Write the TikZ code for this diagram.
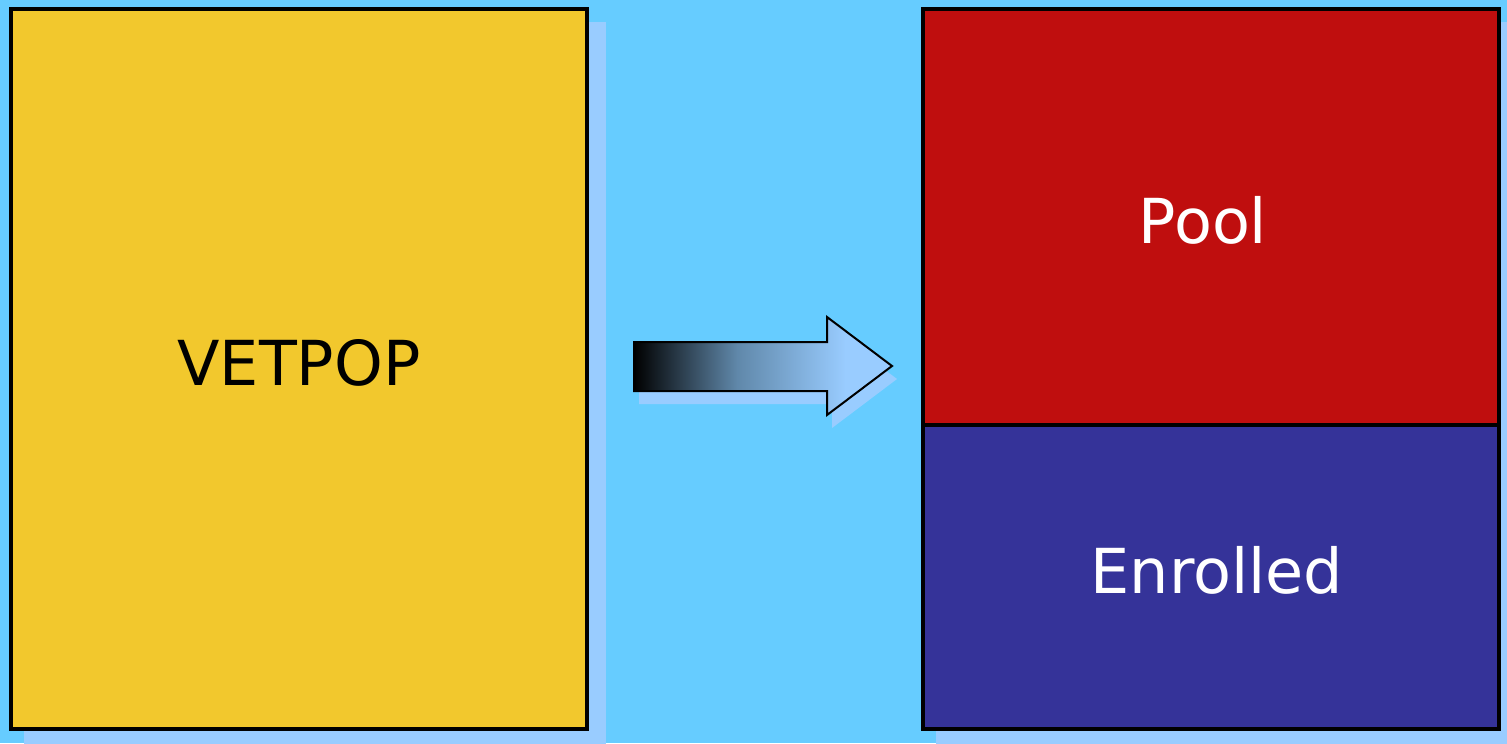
\documentclass[tikz,border=0pt]{standalone}
\usepackage{fontspec}
\setmainfont{DejaVu Sans}
\definecolor{bgc}{HTML}{66CCFF}
\definecolor{shadowc}{HTML}{99CCFF}
\definecolor{yellowc}{HTML}{F2C82D}
\definecolor{redc}{HTML}{BF0E0E}
\definecolor{bluec}{HTML}{353399}
\definecolor{arrowblue}{HTML}{99CCFF}
\definecolor{arrowmid}{HTML}{6088AA}
\pgfdeclarehorizontalshading{arrowshade}{100bp}{color(0bp)=(black); color(25bp)=(black); color(45bp)=(arrowmid); color(66bp)=(arrowblue); color(100bp)=(arrowblue)}
\begin{document}
\begin{tikzpicture}[x=0.5pt,y=-0.5pt,
  box/.style={draw=black, line width=2pt, rectangle, inner sep=0pt, outer sep=0pt},
  lbl/.style={anchor=base, inner sep=0pt, font=\fontsize{31pt}{37pt}\selectfont}]
\useasboundingbox (0,0) rectangle (1507,743);
\clip (0,0) rectangle (1507,743);
\fill[bgc] (0,0) rectangle (1507,743);
% shadows
\fill[shadowc] (24,22) rectangle (606,760);
\fill[shadowc] (936,22) rectangle (1520,760);
% boxes
\node[box, fill=yellowc, minimum width=288pt, minimum height=360pt] (vet) at (299,369) {};
\node[box, fill=redc, minimum width=288pt, minimum height=208pt] (pool) at (1211,217) {};
\node[box, fill=bluec, minimum width=288pt, minimum height=152pt] (enr) at (1211,577) {};
% labels
\node[lbl, text=black] (vetlbl) at (299,385) {VETPOP};
\node[lbl, text=white] (poollbl) at (1203,243) {Pool};
\node[lbl, text=white] (enrlbl) at (1217,593) {Enrolled};
% arrow shadow
\fill[shadowc, shift={(5,13)}] (634,342) -- (827,342) -- (827,317) -- (892,366) -- (827,415) -- (827,391) -- (634,391) -- cycle;
% arrow
\draw[line width=1pt, shading=arrowshade] (634,342) -- (827,342) -- (827,317) -- (892,366) -- (827,415) -- (827,391) -- (634,391) -- cycle;
\end{tikzpicture}
\end{document}
